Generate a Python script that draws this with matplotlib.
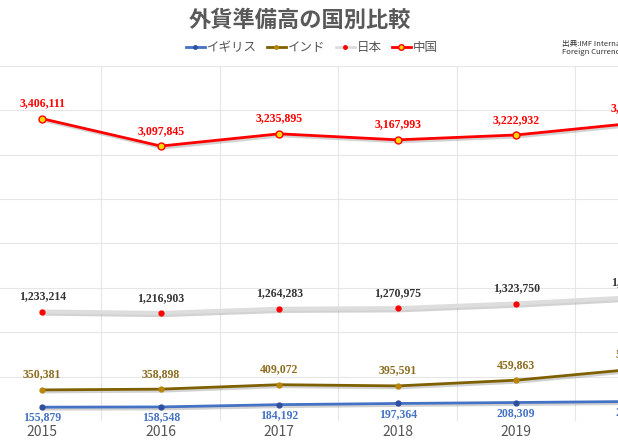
import matplotlib
matplotlib.use("Agg")
import matplotlib.pyplot as plt
import matplotlib.patheffects as pe

years = ["2015", "2016", "2017", "2018", "2019", "2020"]
uk = [155879, 158548, 184192, 197364, 208309, 220000]
india = [350381, 358898, 409072, 395591, 459863, 585000]
japan = [1233214, 1216903, 1264283, 1270975, 1323750, 1394680]
china = [3406111, 3097845, 3235895, 3167993, 3222932, 3357000]

plt.rcParams['font.family'] = ['Noto Sans CJK JP', 'DejaVu Sans']
fig = plt.figure(figsize=(6.18, 4.40), dpi=100)
W, H = 618, 440
ax = fig.add_axes([-17 / W, 19 / H, 711 / W, 355 / H])
x = list(range(len(years)))
shadow = [pe.SimpleLineShadow(offset=(1.5, -1.5), shadow_color='gray', alpha=0.35), pe.Normal()]

series = [
    ("イギリス", uk, "#4472c4", "#2f4f9f", "#2f4f9f", 3.5, "#4472c4", -1),
    ("インド", india, "#7f6000", "#b8860b", "#b8860b", 3.5, "#8c6d1f", 1),
    ("日本", japan, "#dddddd", "red", "red", 3.5, "#333333", 1),
    ("中国", china, "red", "#ffd700", "red", 5, "red", 1),
]
for name, vals, lc, mfc, mec, ms, tc, side in series:
    ax.plot(x, vals, color=lc, lw=2 if name != "日本" else 3, path_effects=shadow, zorder=3,
            label=name, marker='o', ms=0.01)
    ax.plot(x, vals, lw=0, marker='o', ms=ms, mfc=mfc, mec=mec, mew=1, zorder=4)
    for xi, v in zip(x, vals):
        ax.annotate(f"{v:,}", (xi, v), xytext=(0, 11 * side if side > 0 else -7.5),
                    textcoords='offset points',
                    ha='center', va='center', color=tc, fontsize=8.5, fontweight='bold',
                    family=['Liberation Serif'])

# legend proxies with markers
handles = []
for name, vals, lc, mfc, mec, ms, tc, side in series:
    h, = ax.plot([], [], color=lc, lw=2, marker='o', ms=ms - 1, mfc=mfc, mec=mec, label=name)
    handles.append(h)

ax.set_xlim(-0.5, 5.5)
ax.set_ylim(0, 4000000)
ax.set_yticks(range(0, 4000001, 500000))
ax.set_yticklabels([])
ax.set_xticks([i + 0.5 for i in range(5)], minor=True)
ax.set_xticks(x)
ax.set_xticklabels(years, color='#555555', fontsize=10)
ax.tick_params(axis='both', which='both', length=0, pad=3)
ax.grid(True, which='major', axis='y', color='#e6e6e6', lw=0.8)
ax.grid(True, which='minor', axis='x', color='#e6e6e6', lw=0.8)
for s in ax.spines.values():
    s.set_visible(False)

fig.text(300 / W, 1 - 20 / H, "外貨準備高の国別比較", ha='center', va='center',
         fontsize=16, fontweight='bold', color='#595959')
fig.legend(handles=handles, loc='center', bbox_to_anchor=(312 / W, 1 - 48 / H), ncol=4,
           frameon=False, fontsize=9, handlelength=1.5, handletextpad=0.2,
           columnspacing=0.8, labelcolor='#555555')
fig.text(562 / W, 1 - 48 / H, "出典:IMF International Reserves and\nForeign Currency Liquidity",
         ha='left', va='center', fontsize=5.5, color='#333333', linespacing=1.1)
fig.savefig("out.png", dpi=100)
